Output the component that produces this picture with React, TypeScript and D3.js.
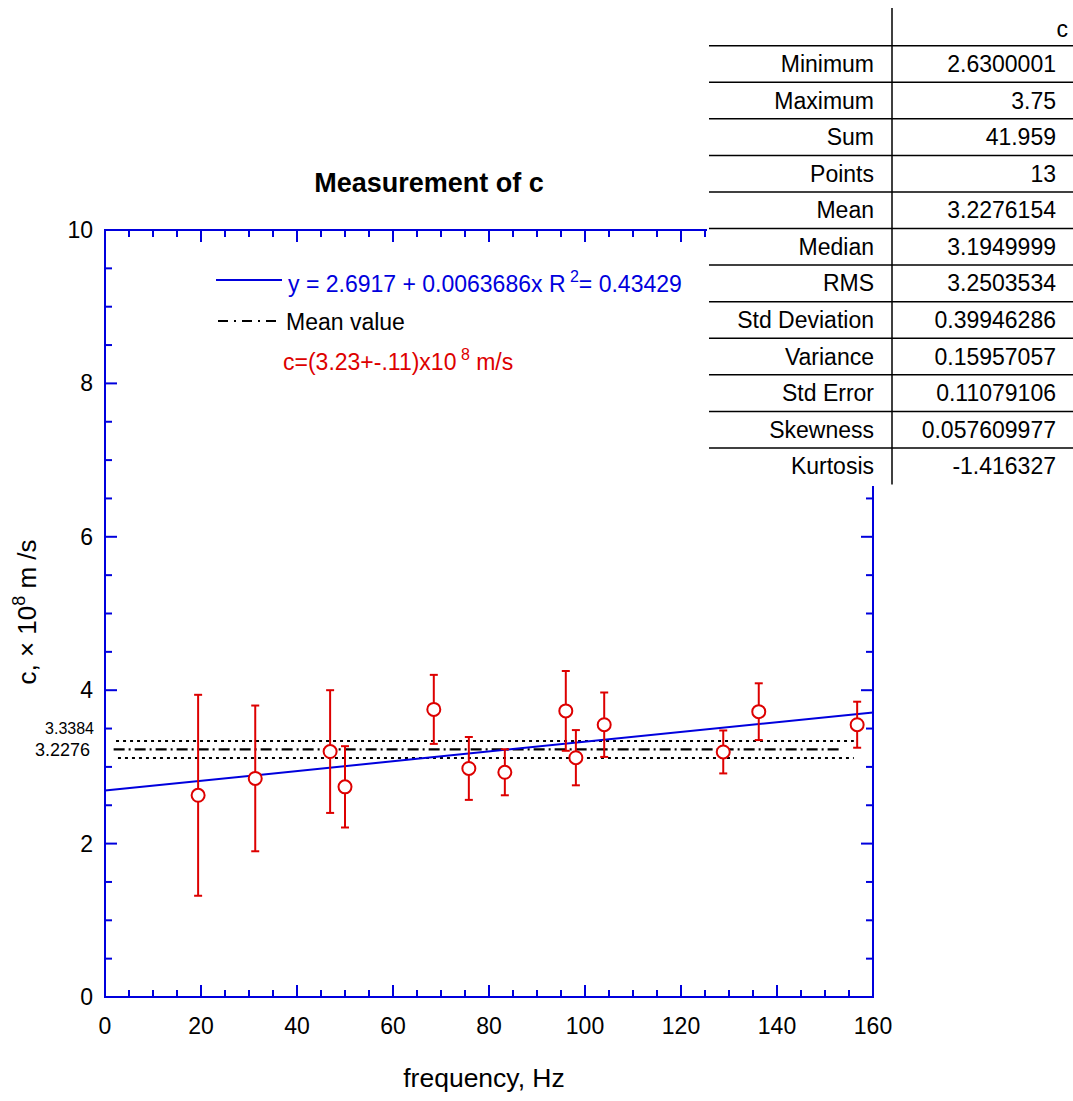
import { useEffect, useRef } from 'react';
import * as d3 from 'd3';

// Mesures (fréquence en Hz, c en 10^8 m/s, erreur symétrique)
const frequencies = [19.4, 31.3, 46.9, 50.0, 68.5, 75.8, 83.3, 96.0, 98.1, 104.0, 128.8, 136.2, 156.7];
const cValues = [2.63, 2.85, 3.2, 2.74, 3.75, 2.98, 2.93, 3.73, 3.12, 3.55, 3.195, 3.72, 3.55];
const cErrors = [1.31, 0.95, 0.8, 0.53, 0.45, 0.41, 0.3, 0.52, 0.36, 0.42, 0.28, 0.37, 0.3];

// Ajustement linéaire et moyenne (valeurs affichées)
const fitIntercept = 2.6917;
const fitSlope = 0.0063686;
const meanValue = 3.2276154;
const stdError = 0.11079106;

const xTicks = [0, 20, 40, 60, 80, 100, 120, 140, 160];
const yTicks = [0, 2, 4, 6, 8, 10];

const statLabels = ['Minimum', 'Maximum', 'Sum', 'Points', 'Mean', 'Median', 'RMS', 'Std Deviation', 'Variance', 'Std Error', 'Skewness', 'Kurtosis'];
const statValues = ['2.6300001', '3.75', '41.959', '13', '3.2276154', '3.1949999', '3.2503534', '0.39946286', '0.15957057', '0.11079106', '0.057609977', '-1.416327'];

const BLUE = '#0000dd';
const RED = '#dd0000';
const FONT = '"Liberation Sans", Arial, sans-serif';

export default function App() {
  const svgRef = useRef<SVGSVGElement>(null);

  useEffect(() => {
    const width = 1073;
    const height = 1101;
    const left = 105, right = 873, top = 230, bottom = 997;

    const svg = d3.select(svgRef.current);
    svg.selectAll('*').remove();
    svg.attr('width', width).attr('height', height).style('font-family', FONT);

    const x = d3.scaleLinear().domain([0, 160]).range([left, right]);
    const y = d3.scaleLinear().domain([0, 10]).range([bottom, top]);

    // Titre
    svg.append('text')
      .attr('x', 429).attr('y', 192)
      .attr('text-anchor', 'middle')
      .style('font-size', '27px').style('font-weight', 'bold')
      .text('Measurement of c');

    // Lignes moyenne ± erreur standard
    svg.append('line')
      .attr('x1', x(2.3)).attr('x2', x(156))
      .attr('y1', y(meanValue + stdError)).attr('y2', y(meanValue + stdError))
      .attr('stroke', '#000').attr('stroke-width', 2).attr('stroke-dasharray', '3,4');
    svg.append('line')
      .attr('x1', x(2.7)).attr('x2', x(156))
      .attr('y1', y(meanValue - stdError)).attr('y2', y(meanValue - stdError))
      .attr('stroke', '#000').attr('stroke-width', 2).attr('stroke-dasharray', '3,4');
    svg.append('line')
      .attr('x1', x(1.8)).attr('x2', x(153))
      .attr('y1', y(meanValue)).attr('y2', y(meanValue))
      .attr('stroke', '#000').attr('stroke-width', 2.2).attr('stroke-dasharray', '11,4,2,4');

    // Droite de régression
    svg.append('line')
      .attr('x1', x(0)).attr('x2', x(160))
      .attr('y1', y(fitIntercept)).attr('y2', y(fitIntercept + fitSlope * 160))
      .attr('stroke', BLUE).attr('stroke-width', 2);

    // Barres d'erreur
    const pts = frequencies.map((f, i) => ({ f, c: cValues[i], e: cErrors[i] }));
    const eb = svg.append('g').attr('stroke', RED).attr('stroke-width', 2);
    pts.forEach(d => {
      eb.append('line').attr('x1', x(d.f)).attr('x2', x(d.f)).attr('y1', y(d.c + d.e)).attr('y2', y(d.c - d.e));
      eb.append('line').attr('x1', x(d.f) - 4).attr('x2', x(d.f) + 4).attr('y1', y(d.c + d.e)).attr('y2', y(d.c + d.e));
      eb.append('line').attr('x1', x(d.f) - 4).attr('x2', x(d.f) + 4).attr('y1', y(d.c - d.e)).attr('y2', y(d.c - d.e));
    });

    svg.append('g').selectAll('circle')
      .data(pts)
      .join('circle')
      .attr('cx', d => x(d.f)).attr('cy', d => y(d.c))
      .attr('r', 6.5)
      .attr('fill', 'white').attr('stroke', RED).attr('stroke-width', 2);

    // Cadre et graduations
    const frame = svg.append('g').attr('stroke', BLUE).attr('stroke-width', 2);
    frame.append('rect')
      .attr('x', left).attr('y', top).attr('width', right - left).attr('height', bottom - top)
      .attr('fill', 'none');

    d3.range(5, 160, 5).forEach(v => {
      const len = v % 20 === 0 ? 12 : 7;
      frame.append('line').attr('x1', x(v)).attr('x2', x(v)).attr('y1', bottom).attr('y2', bottom - len);
      frame.append('line').attr('x1', x(v)).attr('x2', x(v)).attr('y1', top).attr('y2', top + len);
    });
    d3.range(0.5, 10, 0.5).forEach(v => {
      const len = Math.abs(v % 2) < 1e-9 ? 12 : 7;
      frame.append('line').attr('x1', left).attr('x2', left + len).attr('y1', y(v)).attr('y2', y(v));
      frame.append('line').attr('x1', right).attr('x2', right - len).attr('y1', y(v)).attr('y2', y(v));
    });

    // Étiquettes des axes
    svg.append('g').selectAll('text')
      .data(xTicks)
      .join('text')
      .attr('x', d => x(d)).attr('y', 1034)
      .attr('text-anchor', 'middle')
      .style('font-size', '23px')
      .text(d => d);

    svg.append('g').selectAll('text')
      .data(yTicks)
      .join('text')
      .attr('x', 93).attr('y', d => y(d) + 8)
      .attr('text-anchor', 'end')
      .style('font-size', '23px')
      .text(d => d);

    svg.append('text')
      .attr('x', 94).attr('y', y(meanValue) - 15)
      .attr('text-anchor', 'end').style('font-size', '16px')
      .text('3.3384');
    svg.append('text')
      .attr('x', 90).attr('y', y(meanValue) + 7)
      .attr('text-anchor', 'end').style('font-size', '18px')
      .text('3.2276');

    svg.append('text')
      .attr('x', 484).attr('y', 1087)
      .attr('text-anchor', 'middle')
      .style('font-size', '26.5px')
      .text('frequency, Hz');

    const yLabel = svg.append('text')
      .attr('transform', 'translate(36,612) rotate(-90)')
      .attr('text-anchor', 'middle')
      .style('font-size', '26px');
    yLabel.append('tspan').text('c, \u00d7 10');
    yLabel.append('tspan').attr('dy', -11).style('font-size', '18px').text('8');
    yLabel.append('tspan').attr('dy', 11).text(' m /s');

    // Légende
    svg.append('line')
      .attr('x1', 216).attr('x2', 282).attr('y1', 280).attr('y2', 280)
      .attr('stroke', BLUE).attr('stroke-width', 2);
    const fitText = svg.append('text')
      .attr('x', 288).attr('y', 292)
      .attr('fill', BLUE).style('font-size', '23px');
    fitText.append('tspan').text(`y = ${fitIntercept} + ${fitSlope}x R`);
    fitText.append('tspan').attr('dy', -10).style('font-size', '16px').text(' 2');
    fitText.append('tspan').attr('dy', 10).text('= 0.43429');

    svg.append('line')
      .attr('x1', 218).attr('x2', 276).attr('y1', 321).attr('y2', 321)
      .attr('stroke', '#000').attr('stroke-width', 2).attr('stroke-dasharray', '10,6,2,6');
    svg.append('text')
      .attr('x', 286).attr('y', 330)
      .style('font-size', '23px')
      .text('Mean value');

    const cText = svg.append('text')
      .attr('x', 283).attr('y', 370)
      .attr('fill', RED).style('font-size', '23px');
    cText.append('tspan').text('c=(3.23+-.11)x10');
    cText.append('tspan').attr('dy', -10).style('font-size', '16px').text(' 8');
    cText.append('tspan').attr('dy', 10).text(' m/s');

    // Tableau des statistiques
    const rowH = 36.57;
    const firstLine = 45.7;
    const table = svg.append('g');
    table.append('rect')
      .attr('x', 707).attr('y', 0).attr('width', width - 707).attr('height', 486)
      .attr('fill', 'white');
    table.append('line')
      .attr('x1', 892).attr('x2', 892).attr('y1', 8).attr('y2', firstLine + statLabels.length * rowH)
      .attr('stroke', '#000').attr('stroke-width', 1.5);
    table.append('text')
      .attr('x', 1068).attr('y', 37)
      .attr('text-anchor', 'end').style('font-size', '23px')
      .text('c');

    statLabels.forEach((label, i) => {
      const y0 = firstLine + i * rowH;
      table.append('line')
        .attr('x1', 709).attr('x2', width).attr('y1', y0).attr('y2', y0)
        .attr('stroke', '#000').attr('stroke-width', 1.5);
      table.append('text')
        .attr('x', 874).attr('y', y0 + rowH / 2 + 8)
        .attr('text-anchor', 'end').style('font-size', '23px')
        .text(label);
      table.append('text')
        .attr('x', 1056).attr('y', y0 + rowH / 2 + 8)
        .attr('text-anchor', 'end').style('font-size', '23px')
        .text(statValues[i]);
    });
  }, []);

  return (
    <svg ref={svgRef} style={{ position: 'absolute', left: 0, top: 0, background: 'white' }}></svg>
  );
}
